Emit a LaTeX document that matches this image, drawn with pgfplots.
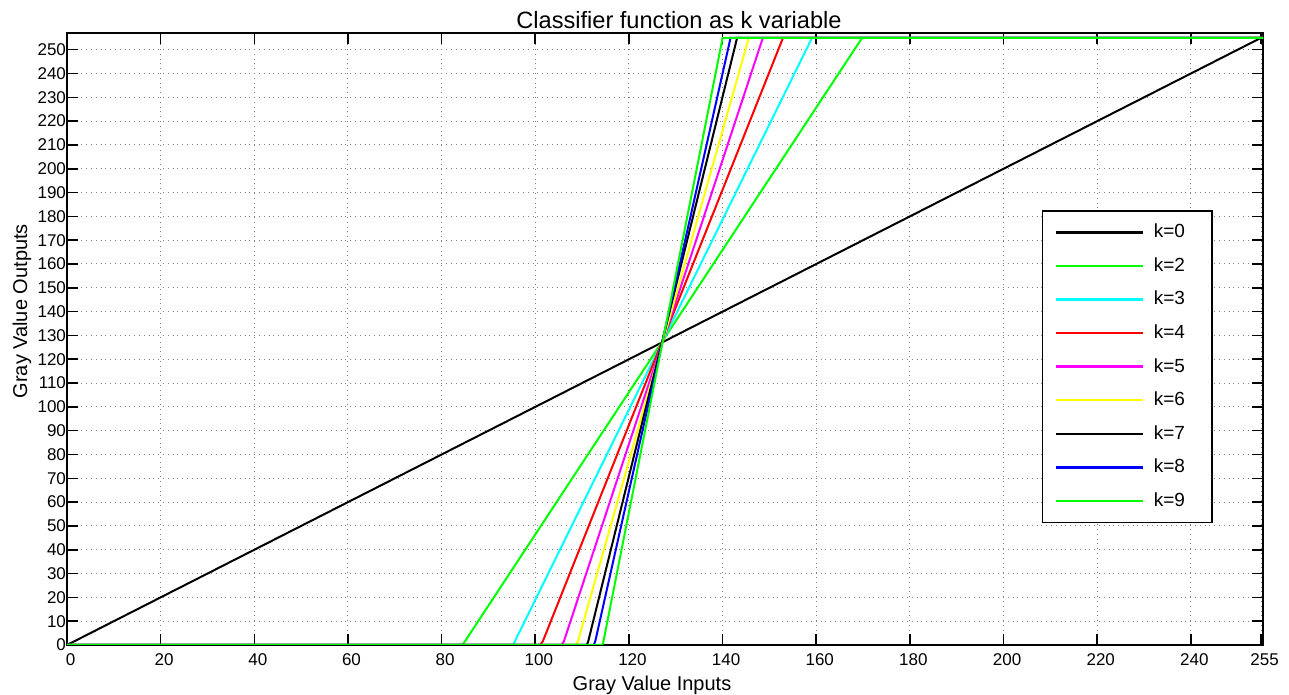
\documentclass[border=0pt]{standalone}
\usepackage{fontspec}
\setmainfont{Liberation Sans}
\usepackage{pgfplots}
\pgfplotsset{compat=1.18}
\definecolor{mgreen}{rgb}{0,1,0}
\definecolor{mcyan}{rgb}{0,1,1}
\definecolor{mred}{rgb}{1,0,0}
\definecolor{mmagenta}{rgb}{1,0,1}
\definecolor{myellow}{rgb}{1,1,0}
\definecolor{mblue}{rgb}{0,0,1}
\begin{document}
\begin{tikzpicture}
\begin{axis}[
  scale only axis, width=598pt, height=305.75pt,
  xmin=0, xmax=255.4, ymin=0, ymax=256.8,
  xtick={0,20,...,240,255}, ytick={0,10,...,250},
  tick pos=both, tick align=inside, major tick length=5.5pt,
  axis line style={line width=1pt},
  every tick/.style={black, line width=0.8pt},
  grid=major, major grid style={dotted, gray, line width=0.5pt},
  /pgf/number format/assume math mode=true,
  tick label style={font=\fontsize{8.5}{10}\selectfont},
  xticklabel style={xshift=1.75pt, yshift=-0.7pt},
  yticklabel style={xshift=3pt},
  title={Classifier function as k variable},
  every axis title/.style={at={(axis description cs:0.5,1)}, anchor=base, yshift=2.25pt, xshift=7pt, font=\fontsize{11.8}{13}\selectfont},
  xlabel={Gray Value Inputs},
  every axis x label/.style={at={(axis description cs:0.5,0)}, anchor=base, yshift=-22.5pt, xshift=-6.5pt, font=\fontsize{10}{12}\selectfont},
  ylabel={Gray Value Outputs},
  every axis y label/.style={at={(axis description cs:0,0.5)}, rotate=90, anchor=base, xshift=14pt, yshift=20pt, font=\fontsize{10}{12}\selectfont},
  legend style={at={(axis description cs:0.958,0.711)}, anchor=north east, draw=black, line width=0.8pt,
    font=\fontsize{9.5}{11}\selectfont, row sep=5.4pt, inner xsep=6pt, inner ysep=5pt,
    nodes={inner sep=1.5pt}},
  legend cell align=left,
  legend image code/.code={\draw[#1, line width=1.2pt] (0pt,0pt) -- (43.5pt,0pt); \path (47pt,0pt);},
  every axis plot/.append style={line width=1pt},
]
\addplot[black] coordinates {(0,0) (255,255)};
\addlegendentry{k=0\kern6pt}
\addplot[mgreen] coordinates {(0,0) (84.3,0) (84.8,1) (169.8,255) (255.4,255)};
\addlegendentry{k=2\kern6pt}
\addplot[mcyan] coordinates {(0,0) (95.2,0) (95.5,1) (159.1,255) (255.4,255)};
\addlegendentry{k=3\kern6pt}
\addplot[mred] coordinates {(0,0) (101.0,0) (101.6,1.5) (152.9,255) (255.4,255)};
\addlegendentry{k=4\kern6pt}
\addplot[mmagenta] coordinates {(0,0) (105.6,0) (106.1,1.5) (148.6,255) (255.4,255)};
\addlegendentry{k=5\kern6pt}
\addplot[myellow] coordinates {(0,0) (108.6,0) (109.1,1.5) (145.6,255) (255.4,255)};
\addlegendentry{k=6\kern6pt}
\addplot[black] coordinates {(0,0) (111.0,0) (111.3,1.5) (143.1,255) (255.4,255)};
\addlegendentry{k=7\kern6pt}
\addplot[mblue] coordinates {(0,0) (112.5,0) (112.8,1.5) (141.7,255) (255.4,255)};
\addlegendentry{k=8\kern6pt}
\addplot[mgreen] coordinates {(0,0) (114.3,0) (114.5,1) (140.0,255) (255.4,255)};
\addlegendentry{k=9\kern6pt}
\end{axis}
\pgfresetboundingbox
\path[use as bounding box] ([shift={(-33.5pt,-25pt)}]current axis.south west) rectangle ([shift={(13pt,16.75pt)}]current axis.north east);
\end{tikzpicture}
\end{document}
